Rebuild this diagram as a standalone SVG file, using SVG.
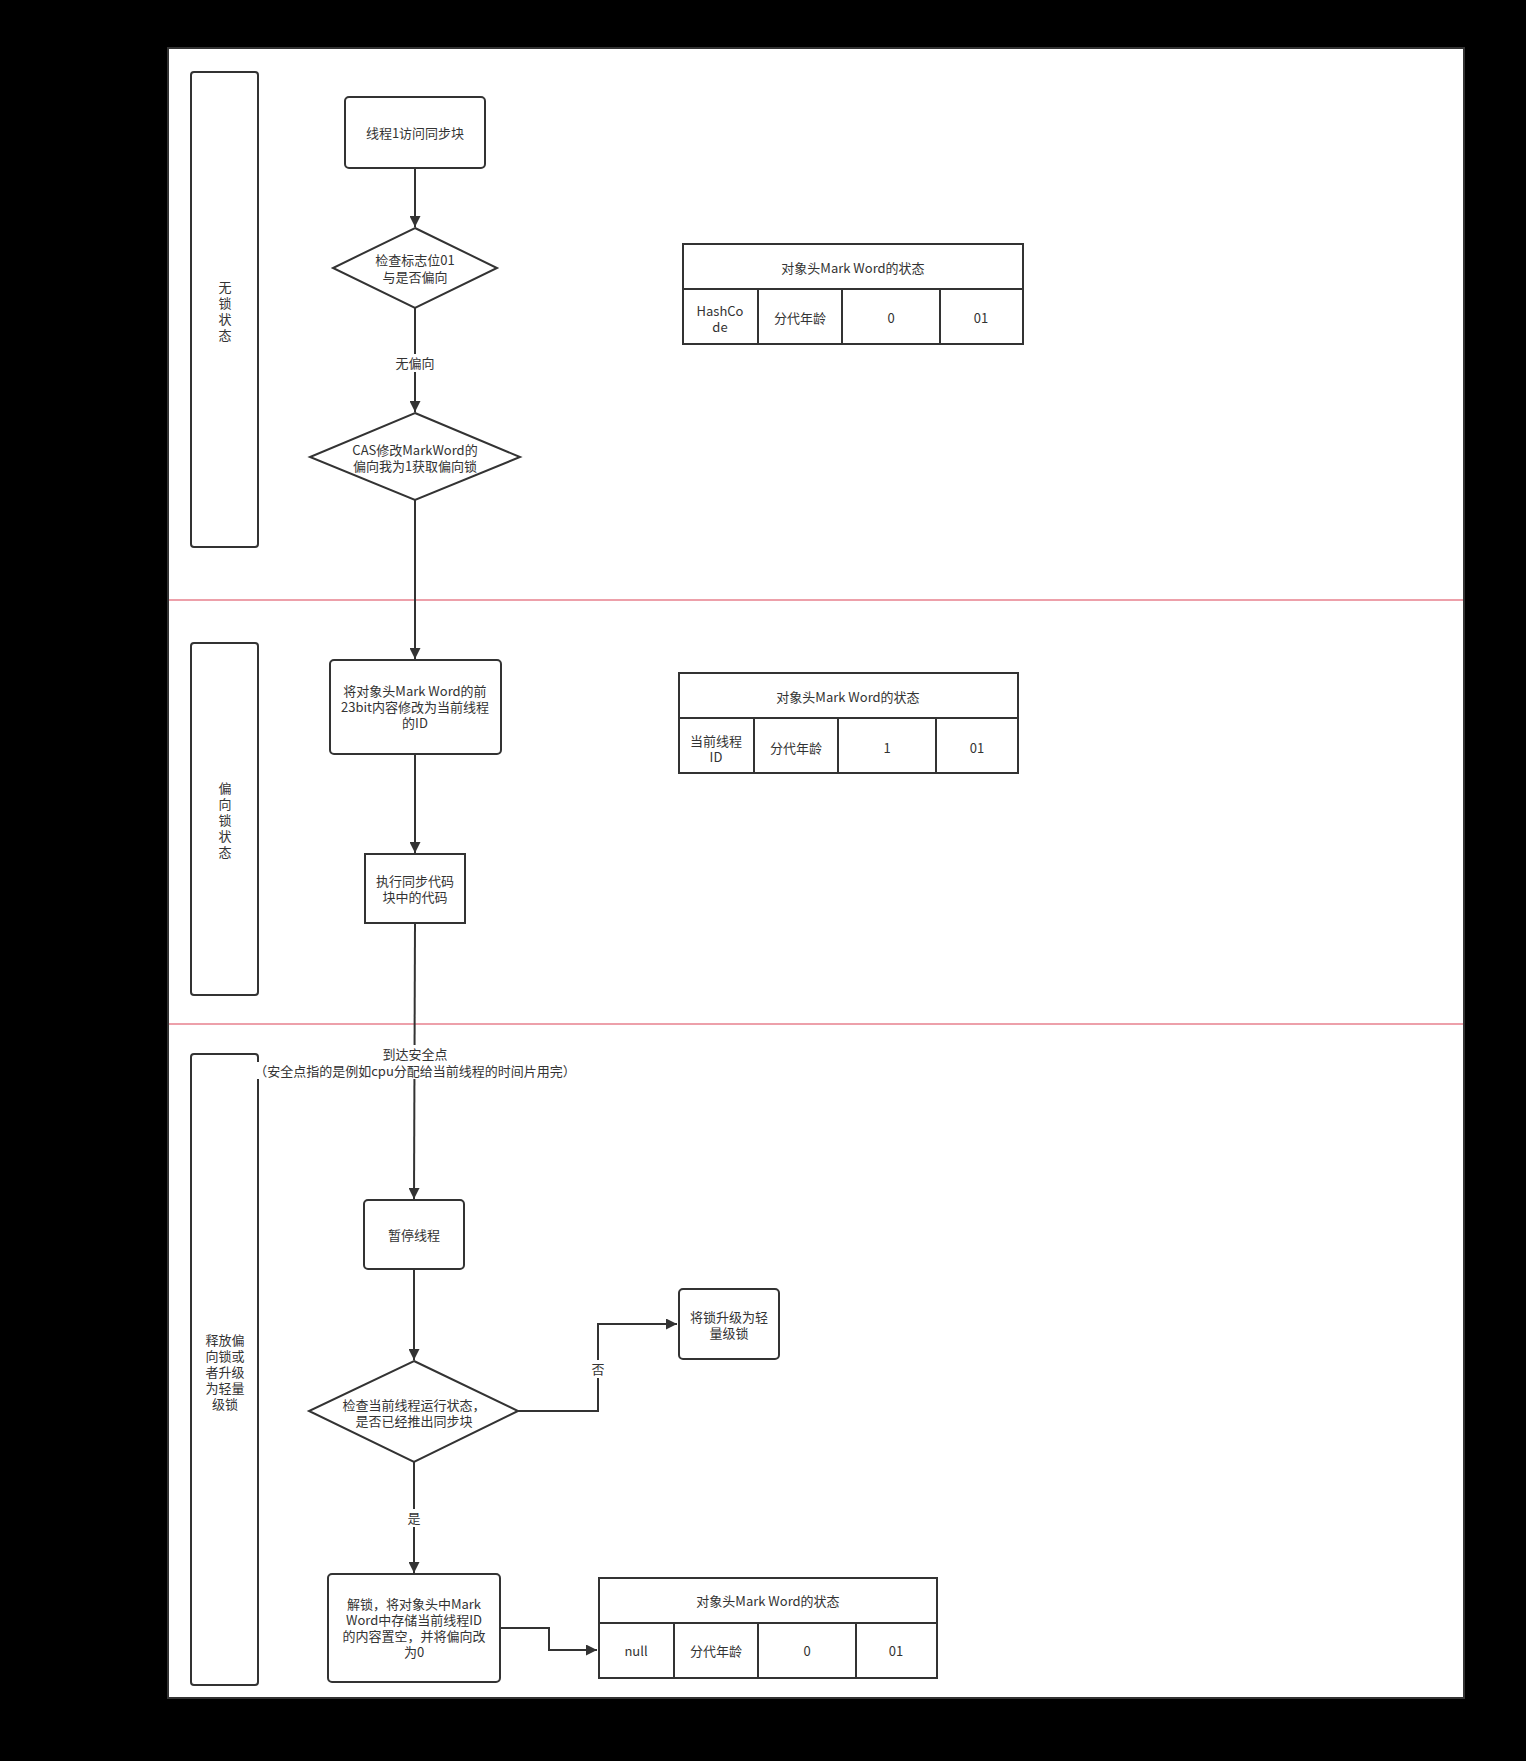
<svg xmlns="http://www.w3.org/2000/svg" width="1526" height="1761" viewBox="0 0 1526 1761">
<defs>
<marker id="arr" viewBox="0 0 10 10" refX="10" refY="5" markerWidth="11" markerHeight="11" markerUnits="userSpaceOnUse" orient="auto">
<path d="M0,0 L10,5 L0,10 z" fill="#333"/>
</marker>
<style>
text{font-family:"Noto Sans CJK SC","Liberation Sans",sans-serif;font-size:13px;fill:#333;text-anchor:middle;dominant-baseline:central}
.box{fill:#fff;stroke:#333;stroke-width:2}
.ln{fill:none;stroke:#333;stroke-width:2}
.sep{stroke:#eda0aa;stroke-width:2}
.lbl{fill:#fff}
</style>
</defs>
<rect x="0" y="0" width="1526" height="1761" fill="#000"/>
<rect x="168" y="48" width="1296" height="1650" fill="#fff" stroke="#333" stroke-width="2"/>
<line class="sep" x1="169" y1="600" x2="1463" y2="600"/>
<line class="sep" x1="169" y1="1024" x2="1463" y2="1024"/>

<g id="lane1"><rect class="box" x="191" y="72" width="67" height="475" rx="3"/>
<text x="225" y="286">无</text><text x="225" y="302">锁</text><text x="225" y="318">状</text><text x="225" y="334">态</text></g>
<g id="lane2"><rect class="box" x="191" y="643" width="67" height="352" rx="3"/>
<text x="225" y="787">偏</text><text x="225" y="803">向</text><text x="225" y="819">锁</text><text x="225" y="835">状</text><text x="225" y="851">态</text></g>
<g id="lane3"><rect class="box" x="191" y="1054" width="67" height="631" rx="3"/>
<text x="225" y="1339">释放偏</text><text x="225" y="1355">向锁或</text><text x="225" y="1371">者升级</text><text x="225" y="1387">为轻量</text><text x="225" y="1403">级锁</text></g>

<g id="connectors">
<line class="ln" x1="415" y1="168" x2="415" y2="227" marker-end="url(#arr)"/>
<line class="ln" x1="415" y1="308" x2="415" y2="412" marker-end="url(#arr)"/>
<line class="ln" x1="415" y1="500" x2="415" y2="659" marker-end="url(#arr)"/>
<line class="ln" x1="415" y1="754" x2="415" y2="853" marker-end="url(#arr)"/>
<line class="ln" x1="415" y1="923" x2="414" y2="1199" marker-end="url(#arr)"/>
<line class="ln" x1="414" y1="1269" x2="414" y2="1360" marker-end="url(#arr)"/>
<polyline class="ln" points="518,1411 598,1411 598,1324 677,1324" marker-end="url(#arr)"/>
<line class="ln" x1="414" y1="1462" x2="414" y2="1573" marker-end="url(#arr)"/>
<polyline class="ln" points="500,1628 549,1628 549,1650 597,1650" marker-end="url(#arr)"/>
<rect class="lbl" x="394" y="354" width="42" height="18"/><text x="415" y="362">无偏向</text>
<rect class="lbl" x="376" y="1045" width="78" height="17"/><rect class="lbl" x="256" y="1062" width="318" height="17"/>
<text x="415" y="1053">到达安全点</text>
<text x="415" y="1070">（安全点指的是例如cpu分配给当前线程的时间片用完）</text>
<rect class="lbl" x="590" y="1360" width="16" height="18"/><text x="598" y="1368">否</text>
<rect class="lbl" x="406" y="1509" width="16" height="18"/><text x="414" y="1517">是</text>
</g>

<g id="n1"><rect class="box" x="345" y="97" width="140" height="71" rx="4"/><text x="415" y="132">线程1访问同步块</text></g>
<g id="n2"><polygon class="box" points="415,228 497,268 415,308 333,268"/><text x="415" y="259">检查标志位01</text><text x="415" y="276">与是否偏向</text></g>
<g id="n3"><polygon class="box" points="415,413 520,457 415,500 310,457"/><text x="415" y="449">CAS修改MarkWord的</text><text x="415" y="465">偏向我为1获取偏向锁</text></g>
<g id="n4"><rect class="box" x="330" y="660" width="171" height="94" rx="4"/><text x="415" y="690">将对象头Mark Word的前</text><text x="415" y="706">23bit内容修改为当前线程</text><text x="415" y="722">的ID</text></g>
<g id="n5"><rect class="box" x="365" y="854" width="100" height="69"/><text x="415" y="880">执行同步代码</text><text x="415" y="896">块中的代码</text></g>
<g id="n6"><rect class="box" x="364" y="1200" width="100" height="69" rx="4"/><text x="414" y="1234">暂停线程</text></g>
<g id="n7"><polygon class="box" points="414,1361 518,1411 414,1462 309,1411"/><text x="414" y="1404">检查当前线程运行状态，</text><text x="414" y="1420">是否已经推出同步块</text></g>
<g id="n8"><rect class="box" x="679" y="1289" width="100" height="70" rx="4"/><text x="729" y="1316">将锁升级为轻</text><text x="729" y="1332">量级锁</text></g>
<g id="n9"><rect class="box" x="328" y="1574" width="172" height="108" rx="4"/><text x="414" y="1603">解锁，将对象头中Mark</text><text x="414" y="1619">Word中存储当前线程ID</text><text x="414" y="1635">的内容置空，并将偏向改</text><text x="414" y="1651">为0</text></g>

<g id="t1"><rect class="box" x="683" y="244" width="340" height="100"/>
<line class="ln" x1="683" y1="289" x2="1023" y2="289"/><line class="ln" x1="758" y1="289" x2="758" y2="344"/><line class="ln" x1="842" y1="289" x2="842" y2="344"/><line class="ln" x1="940" y1="289" x2="940" y2="344"/>
<text x="853" y="267">对象头Mark Word的状态</text>
<text x="720" y="310">HashCo</text><text x="720" y="326">de</text><text x="800" y="317">分代年龄</text><text x="891" y="317">0</text><text x="981" y="317">01</text></g>
<g id="t2"><rect class="box" x="679" y="673" width="339" height="100"/>
<line class="ln" x1="679" y1="718" x2="1018" y2="718"/><line class="ln" x1="754" y1="718" x2="754" y2="773"/><line class="ln" x1="838" y1="718" x2="838" y2="773"/><line class="ln" x1="936" y1="718" x2="936" y2="773"/>
<text x="848" y="696">对象头Mark Word的状态</text>
<text x="716" y="740">当前线程</text><text x="716" y="756">ID</text><text x="796" y="747">分代年龄</text><text x="887" y="747">1</text><text x="977" y="747">01</text></g>
<g id="t3"><rect class="box" x="599" y="1578" width="338" height="100"/>
<line class="ln" x1="599" y1="1623" x2="937" y2="1623"/><line class="ln" x1="674" y1="1623" x2="674" y2="1678"/><line class="ln" x1="758" y1="1623" x2="758" y2="1678"/><line class="ln" x1="856" y1="1623" x2="856" y2="1678"/>
<text x="768" y="1600">对象头Mark Word的状态</text>
<text x="636" y="1650">null</text><text x="716" y="1650">分代年龄</text><text x="807" y="1650">0</text><text x="896" y="1650">01</text></g>
</svg>
